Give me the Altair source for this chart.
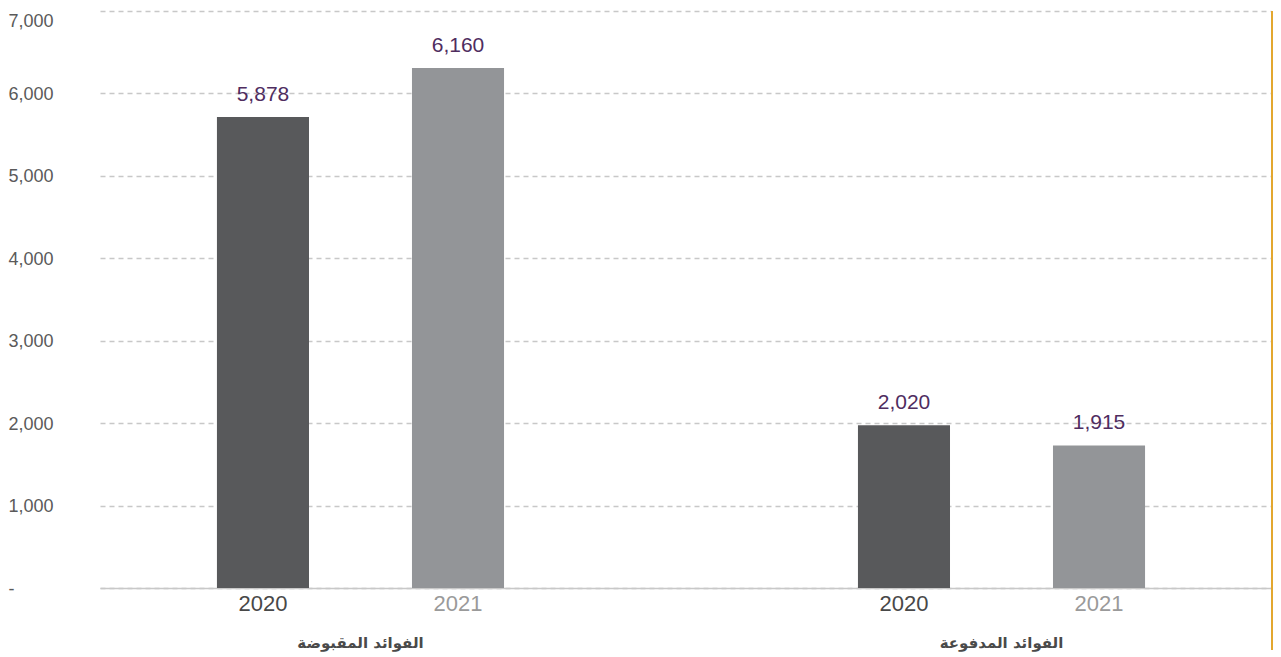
import altair as alt
import pandas as pd

groups = ["الفوائد المقبوضة", "الفوائد المدفوعة"]
years = ["2020", "2021"]
bar_group = [groups[0], groups[0], groups[1], groups[1]]
bar_year = ["2020", "2021", "2020", "2021"]
bar_heights = [5713, 6310, 1973, 1730]
value_labels = ["5,878", "6,160", "2,020", "1,915"]
y_ticks = [0, 1000, 2000, 3000, 4000, 5000, 6000, 7000]

df = pd.DataFrame({
    "group": bar_group,
    "year": bar_year,
    "value": bar_heights,
    "label": value_labels,
})

W = 1171
H = 577

x_enc = alt.X(
    "group:N",
    sort=groups,
    scale=alt.Scale(paddingInner=0.4, paddingOuter=0.1134, align=0.469),
    axis=alt.Axis(
        title=None,
        labelAngle=0,
        labelFont="DejaVu Sans",
        labelFontWeight="bold",
        labelFontSize=15,
        labelColor="#4a4a4a",
        labelPadding=47,
        ticks=False,
        tickSize=0,
        domain=True,
        domainColor="#c8c8c8",
        domainWidth=1.5,
        grid=False,
    ),
)
xoff = alt.XOffset(
    "year:N", sort=years, scale=alt.Scale(paddingInner=0.528, paddingOuter=0.25)
)

y_enc = alt.Y(
    "value:Q",
    scale=alt.Scale(domain=[0, 7000], nice=False, zero=True),
    axis=alt.Axis(
        title=None,
        values=y_ticks,
        labelExpr="datum.value == 0 ? '-' : format(datum.value, ',')",
        labelAlign="left",
        labelBaseline={"condition": {"test": "datum.value == 7000", "value": "top"}, "value": "middle"},
        labelPadding=92,
        labelOffset=1,
        labelFont="Liberation Sans",
        labelFontSize=18,
        labelColor="#5a5a5a",
        ticks=False,
        tickSize=0,
        domain=False,
        grid=True,
        gridColor="#c8c8c8",
        gridDash=[5, 4],
        gridWidth=1.5,
    ),
)

base = alt.Chart(df)

bars = base.mark_bar().encode(
    x=x_enc,
    xOffset=xoff,
    y=y_enc,
    color=alt.Color(
        "year:N",
        scale=alt.Scale(domain=years, range=["#58595b", "#939598"]),
        legend=None,
    ),
)

vlabels = base.mark_text(
    dy=-16, baseline="alphabetic", font="Liberation Sans", fontSize=21, color="#4f2d5f"
).encode(
    x=alt.X("group:N", sort=groups),
    xOffset=alt.XOffset("year:N", sort=years),
    y="value:Q",
    text="label:N",
)

ylabels = base.mark_text(
    dy=16, baseline="middle", font="Liberation Sans", fontSize=22
).encode(
    x=alt.X("group:N", sort=groups),
    xOffset=alt.XOffset("year:N", sort=years),
    y=alt.datum(0),
    text="year:N",
    color=alt.condition("datum.year == '2020'", alt.value("#484848"), alt.value("#9a9a9a")),
)

edge = alt.Chart(pd.DataFrame({"a": [0]})).mark_rule(color="#e3a72f", strokeWidth=2).encode(
    x=alt.value(W + 1), y=alt.value(0), y2=alt.value(H + 62)
)

chart = (
    alt.layer(bars, vlabels, ylabels, edge)
    .properties(width=W, height=H, padding={"left": 0, "top": 2, "right": 0, "bottom": 5})
    .configure_view(stroke=None)
)

chart.save("out.html", embed_options={"renderer": "svg", "actions": False})
